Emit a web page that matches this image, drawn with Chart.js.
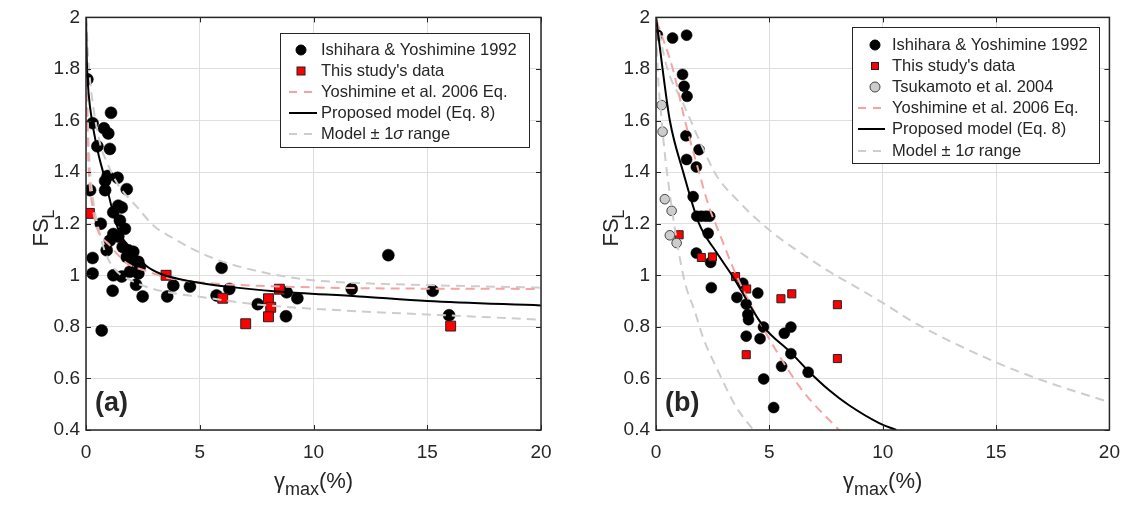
<!DOCTYPE html>
<html>
<head>
<meta charset="utf-8">
<script src="https://cdn.jsdelivr.net/npm/chart.js@4.4.1/dist/chart.umd.min.js"></script>
<style>
  html, body { margin: 0; padding: 0; background: #fff; }
  #wrap { position: relative; width: 1131px; height: 508px; overflow: hidden; }
  canvas { position: absolute; top: 0; }
  #cA { left: 0; }
  #cB { left: 565px; }
</style>
</head>
<body>
<div id="wrap">
  <canvas id="cA" width="565" height="508"></canvas>
  <canvas id="cB" width="566" height="508"></canvas>
</div>
<script>
// axes
const xTickVals = [0, 5, 10, 15, 20];
const yTickVals = [0.4, 0.6, 0.8, 1.0, 1.2, 1.4, 1.6, 1.8, 2.0];

// panel (a) – points [gamma_max %, FS_L]
const aIshihara = [
  [0.06,1.76],[0.29,1.59],[1.1,1.63],[0.79,1.57],[0.98,1.55],[0.5,1.5],[1.05,1.49],
  [0.95,1.385],[1.39,1.378],[0.84,1.366],[0.18,1.33],[0.84,1.33],[1.79,1.334],
  [1.42,1.27],[1.57,1.263],[1.2,1.244],[1.49,1.212],[0.65,1.2],[1.71,1.18],[1.2,1.16],
  [1.42,1.15],[1.05,1.135],[0.91,1.097],[1.61,1.11],[1.86,1.097],[2.08,1.091],
  [1.79,1.071],[2.01,1.059],[2.3,1.052],[2.37,1.033],[0.29,1.067],[0.29,1.007],
  [2.3,1.007],[1.93,1.014],[1.57,0.995],[1.2,1.0],[2.2,0.963],[1.17,0.94],[2.49,0.918],
  [0.69,0.786],[3.84,0.96],[3.57,0.918],[4.57,0.956],[5.96,1.029],[5.74,0.922],
  [6.3,0.947],[7.55,0.888],[8.82,0.934],[8.79,0.841],[9.29,0.911],[11.68,0.947],
  [13.29,1.078],[15.24,0.94],[15.96,0.845]
];
const aThisStudy = [
  [0.15,1.24],[3.52,1.0],[6.01,0.911],[7.02,0.812],[8.02,0.909],[8.12,0.876],
  [8.02,0.839],[8.5,0.946],[16.03,0.803]
];
// panel (a) – curves
const aYoshimine = [
  [0.003,2.0],[0.03,1.7],[0.1,1.45],[0.3,1.26],[0.5,1.18],[1.05,1.116],[1.4,1.08],
  [1.8,1.046],[2.6,1.018],[3.7,0.988],[5.45,0.969],[7.65,0.959],[12,0.95],[20,0.947]
];
const aProposed = [
  [0.002,2.0],[0.03,1.85],[0.07,1.76],[0.18,1.65],[0.47,1.5],[0.84,1.37],[1.2,1.24],
  [1.5,1.16],[2.0,1.1],[2.6,1.04],[3.3,1.005],[4.7,0.975],[6.2,0.956],[8.4,0.937],
  [12,0.918],[15,0.9],[20,0.883]
];
const aUpper = [
  [0.005,2.0],[0.1,1.84],[0.25,1.7],[0.62,1.51],[0.91,1.44],[1.42,1.35],[2.24,1.265],
  [3.0,1.19],[3.7,1.15],[5.45,1.071],[7.64,1.014],[9.85,0.982],[12,0.97],[15,0.962],[20,0.952]
];
const aLower = [
  [0.003,2.0],[0.07,1.65],[0.15,1.45],[0.3,1.3],[0.5,1.2],[0.84,1.09],[1.3,1.02],
  [1.8,0.988],[2.96,0.947],[5.45,0.911],[7.65,0.886],[12,0.86],[15,0.848],[20,0.828]
];

// panel (b) – points
const bIshihara = [
  [0.06,1.932],[0.73,1.92],[1.35,1.931],[1.17,1.779],[1.24,1.733],[1.37,1.694],
  [1.32,1.541],[1.9,1.487],[1.35,1.449],[1.78,1.42],[1.64,1.305],[1.8,1.229],
  [2.0,1.229],[2.2,1.229],[2.37,1.229],[2.3,1.163],[1.78,1.086],[2.41,1.05],[2.44,0.952],
  [3.83,0.969],[3.57,0.914],[3.98,0.888],[4.05,0.848],[4.08,0.828],[4.49,0.931],
  [4.74,0.799],[3.98,0.764],[4.59,0.754],[4.75,0.598],[5.19,0.487],[5.66,0.775],
  [5.95,0.799],[5.95,0.696],[5.54,0.647],[6.71,0.624]
];
const bThisStudy = [
  [1.02,1.157],[2.0,1.069],[2.49,1.071],[3.51,0.995],[4.0,0.947],[3.98,0.692],
  [5.51,0.909],[5.99,0.928],[8.0,0.886],[8.0,0.677]
];
const bTsukamoto = [
  [0.25,1.66],[0.29,1.557],[0.39,1.295],[0.69,1.25],[0.61,1.155],[0.91,1.125]
];
// panel (b) – curves
const bYoshimine = [
  [0.03,1.986],[0.76,1.794],[1.27,1.602],[1.78,1.436],[2.37,1.257],[2.66,1.193],
  [3.54,1.0],[4.42,0.845],[5.15,0.73],[6.46,0.553],[8.07,0.4]
];
const bProposed = [
  [0.005,2.0],[0.06,1.96],[0.29,1.8],[0.61,1.6],[1.2,1.4],[1.9,1.2],[2.66,1.09],
  [3.35,1.0],[4.75,0.8],[5.95,0.7],[6.71,0.63],[7.63,0.555],[8.5,0.497],[9.82,0.428],[10.6,0.4]
];
const bUpper = [
  [0.01,2.0],[0.47,1.81],[1.2,1.666],[2.37,1.436],[2.73,1.378],[3.76,1.276],[4.27,1.231],
  [5.44,1.145],[6.5,1.08],[7.63,1.015],[8.51,0.97],[9.97,0.895],[11.43,0.815],
  [15.01,0.662],[17.28,0.585],[20,0.508]
];
const bLower = [
  [0.005,2.0],[0.05,1.85],[0.25,1.6],[0.47,1.41],[1.2,1.0],[1.75,0.85],[2.07,0.76],
  [2.66,0.643],[3.54,0.489],[4.3,0.4]
];

const labelIshihara = 'Ishihara & Yoshimine 1992';
const labelThisStudy = "This study's data";
const labelTsukamoto = 'Tsukamoto et al. 2004';
const labelYoshimine = 'Yoshimine et al. 2006 Eq.';
const labelProposed = 'Proposed model (Eq. 8)';
const labelSigma = ['Model \u00b1 1', '\u03c3', ' range'];

const FONT = '"Liberation Sans", Arial, Helvetica, sans-serif';
const INK = '#262626';
const GRID = '#dedede';
const PINK = '#f5a3a3';
const GREY = '#cdcdcd';
const DASH = [9, 6];

const pts = arr => arr.map(([x, y]) => ({ x, y }));

function curve(label, arr, color, dash, order) {
  return {
    label, data: pts(arr), showLine: true, pointRadius: 0, borderColor: color,
    borderWidth: 2, borderDash: dash || [], cubicInterpolationMode: 'monotone', order
  };
}
function markers(label, arr, style, r, fill, edge, bw, order) {
  return {
    label, data: pts(arr), showLine: false, pointStyle: style, pointRadius: r,
    pointHoverRadius: r, backgroundColor: fill, borderColor: edge, pointBorderWidth: bw, order
  };
}

// draws text pieces in a row, each piece {t, font, dy}
function runWidth(ctx, parts) {
  return parts.reduce((w, p) => { ctx.font = p.font; return w + ctx.measureText(p.t).width; }, 0);
}
function drawRun(ctx, x, y, parts) {
  parts.forEach(p => {
    ctx.font = p.font;
    ctx.fillText(p.t, x, y + (p.dy || 0));
    x += ctx.measureText(p.t).width;
  });
}

const matlabFrame = {
  id: 'matlabFrame',
  afterDatasetsDraw(chart) {
    const { ctx, chartArea: a, scales } = chart;
    ctx.save();
    ctx.strokeStyle = INK;
    ctx.lineWidth = 1;
    ctx.beginPath();
    xTickVals.forEach(v => {
      const px = Math.round(scales.x.getPixelForValue(v)) + 0.5;
      ctx.moveTo(px, a.bottom); ctx.lineTo(px, a.bottom - 5);
      ctx.moveTo(px, a.top); ctx.lineTo(px, a.top + 5);
    });
    yTickVals.forEach(v => {
      const py = Math.round(scales.y.getPixelForValue(v)) + 0.5;
      ctx.moveTo(a.left, py); ctx.lineTo(a.left + 5, py);
      ctx.moveTo(a.right, py); ctx.lineTo(a.right - 5, py);
    });
    ctx.stroke();
    ctx.lineWidth = 1.5;
    ctx.strokeRect(a.left, a.top, a.right - a.left, a.bottom - a.top);
    ctx.restore();
  },
  afterDraw(chart, args, opts) {
    const { ctx, chartArea: a } = chart;
    ctx.save();
    ctx.fillStyle = INK;
    ctx.textBaseline = 'alphabetic';
    ctx.textAlign = 'left';

    // y title: FS_L
    const yParts = [{ t: 'FS', font: `22px ${FONT}` }, { t: 'L', font: `16px ${FONT}`, dy: 6 }];
    const yw = runWidth(ctx, yParts);
    ctx.save();
    ctx.translate(a.left - 38, 228);
    ctx.rotate(-Math.PI / 2);
    drawRun(ctx, -yw / 2, 0, yParts);
    ctx.restore();

    // x title: gamma_max(%)
    const xParts = [
      { t: '\u03b3', font: `22px ${FONT}` },
      { t: 'max', font: `18px ${FONT}`, dy: 7 },
      { t: '(%)', font: `22px ${FONT}` }
    ];
    const xw = runWidth(ctx, xParts);
    drawRun(ctx, (a.left + a.right) / 2 - xw / 2, a.bottom + 58, xParts);

    // panel label
    ctx.font = `bold 27px ${FONT}`;
    ctx.fillText(opts.tag, a.left + 9, a.bottom - 19);

    // legend
    const lg = opts.legend;
    ctx.fillStyle = '#fff';
    ctx.fillRect(lg.x, lg.y, lg.w, lg.h);
    ctx.strokeStyle = INK;
    ctx.lineWidth = 1;
    ctx.strokeRect(lg.x + 0.5, lg.y + 0.5, lg.w, lg.h);
    ctx.textBaseline = 'middle';
    lg.items.forEach((it, i) => {
      const cy = Math.round(lg.y0 + i * lg.step);
      ctx.save();
      if (it.kind === 'line') {
        ctx.strokeStyle = it.color;
        ctx.lineWidth = 2;
        ctx.setLineDash(it.dash || []);
        ctx.beginPath();
        ctx.moveTo(lg.l0, cy); ctx.lineTo(lg.l1, cy);
        ctx.stroke();
      } else if (it.kind === 'circle') {
        ctx.fillStyle = it.fill; ctx.strokeStyle = it.edge; ctx.lineWidth = 1;
        ctx.beginPath(); ctx.arc(lg.mx, cy, it.r, 0, Math.PI * 2); ctx.fill(); ctx.stroke();
      } else {
        ctx.fillStyle = it.fill; ctx.strokeStyle = it.edge; ctx.lineWidth = 1;
        ctx.fillRect(lg.mx - it.r, cy - it.r, it.r * 2, it.r * 2);
        ctx.strokeRect(lg.mx - it.r, cy - it.r, it.r * 2, it.r * 2);
      }
      ctx.restore();
      ctx.fillStyle = INK;
      const txt = Array.isArray(it.text) ? it.text : [it.text];
      const parts = txt.map((t, k) => ({
        t, font: (Array.isArray(it.text) && k === 1 ? 'italic ' : '') + `16.5px ${FONT}`
      }));
      drawRun(ctx, lg.tx, cy, parts);
    });
    ctx.restore();
  }
};

function makePanel(id, p) {
  return new Chart(document.getElementById(id), {
    type: 'scatter',
    data: { datasets: p.datasets },
    options: {
      responsive: false,
      animation: false,
      events: [],
      layout: { padding: { left: 0, right: p.padRight, top: 13, bottom: 0 } },
      plugins: {
        legend: { display: false },
        tooltip: { enabled: false },
        matlabFrame: { tag: p.tag, legend: p.legend }
      },
      scales: {
        x: {
          type: 'linear', min: 0, max: 20,
          afterBuildTicks: s => { s.ticks = xTickVals.map(v => ({ value: v })); },
          afterFit: s => { s.height = 78; },
          grid: { color: GRID, drawTicks: false },
          border: { display: false },
          ticks: { padding: 11, color: INK, font: { family: FONT, size: 19 }, maxRotation: 0 }
        },
        y: {
          type: 'linear', min: 0.4, max: 2,
          afterBuildTicks: s => { s.ticks = yTickVals.map(v => ({ value: v })); },
          afterFit: s => { s.width = p.yWidth; },
          grid: { color: GRID, drawTicks: false },
          border: { display: false },
          ticks: {
            padding: 6, color: INK, font: { family: FONT, size: 19 },
            callback: v => String(Number(v.toFixed(1)))
          }
        }
      }
    },
    plugins: [matlabFrame]
  });
}

makePanel('cA', {
  tag: '(a)', padRight: 24, yWidth: 86,
  datasets: [
    curve('Proposed', aProposed, '#000', null, 1),
    curve('Upper', aUpper, GREY, DASH, 3),
    curve('Lower', aLower, GREY, DASH, 3),
    curve('Yoshimine', aYoshimine, PINK, DASH, 2),
    markers('This study', aThisStudy, 'rect', 7, '#ff0000', '#222', 1, 5),
    markers('Ishihara', aIshihara, 'circle', 6, '#000', '#000', 0.5, 6)
  ],
  legend: {
    x: 280, y: 33, w: 249, h: 114, y0: 49.5, step: 21, l0: 289, l1: 317, mx: 301, tx: 321,
    items: [
      { kind: 'circle', text: labelIshihara, fill: '#000', edge: '#000', r: 5 },
      { kind: 'square', text: labelThisStudy, fill: '#ff0000', edge: '#222', r: 4 },
      { kind: 'line', text: labelYoshimine, color: PINK, dash: [8, 7] },
      { kind: 'line', text: labelProposed, color: '#000' },
      { kind: 'line', text: labelSigma, color: GREY, dash: [8, 7] }
    ]
  }
});

makePanel('cB', {
  tag: '(b)', padRight: 19, yWidth: 91,
  datasets: [
    curve('Proposed', bProposed, '#000', null, 1),
    curve('Upper', bUpper, GREY, DASH, 3),
    curve('Lower', bLower, GREY, DASH, 3),
    curve('Yoshimine', bYoshimine, PINK, DASH, 2),
    markers('Tsukamoto', bTsukamoto, 'circle', 4.8, '#cccccc', '#444', 1, 4),
    markers('This study', bThisStudy, 'rect', 5.7, '#ff0000', '#222', 1, 5),
    markers('Ishihara', bIshihara, 'circle', 5.5, '#000', '#000', 0.5, 6)
  ],
  legend: {
    x: 287, y: 27, w: 247, h: 136, y0: 44.5, step: 21.2, l0: 293, l1: 320, mx: 310, tx: 327,
    items: [
      { kind: 'circle', text: labelIshihara, fill: '#000', edge: '#000', r: 5 },
      { kind: 'square', text: labelThisStudy, fill: '#ff0000', edge: '#222', r: 3.5 },
      { kind: 'circle', text: labelTsukamoto, fill: '#cccccc', edge: '#444', r: 5 },
      { kind: 'line', text: labelYoshimine, color: PINK, dash: [8, 7] },
      { kind: 'line', text: labelProposed, color: '#000' },
      { kind: 'line', text: labelSigma, color: GREY, dash: [8, 7] }
    ]
  }
});
</script>
</body>
</html>
